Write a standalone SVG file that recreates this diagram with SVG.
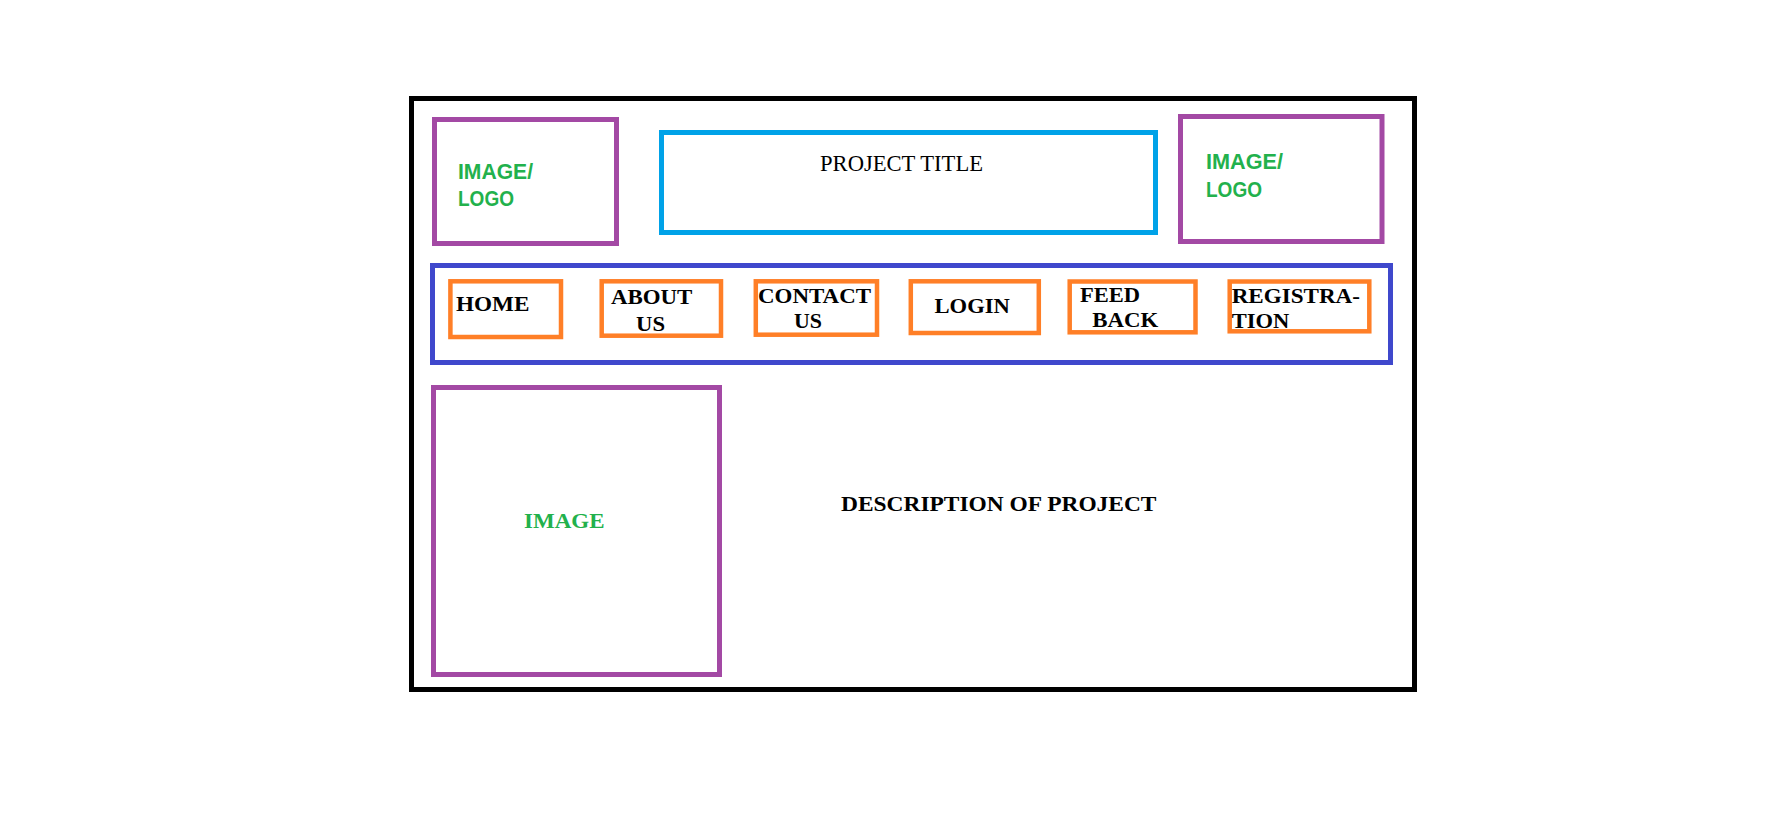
<svg xmlns="http://www.w3.org/2000/svg" width="1781" height="823" viewBox="0 0 1781 823">
<style>
.box{fill:none;stroke-width:5}
.outer{stroke:#000000}
.purple{stroke:#A349A4}
.cyan{stroke:#00A2E8}
.indigo{stroke:#3F48CC}
.btn{fill:none;stroke:#FF7F27;stroke-width:4.5}
.green{font-family:"Liberation Sans",Arial,sans-serif;font-weight:bold;font-size:22px;fill:#22B14C}
.nav{font-family:"Liberation Serif","Times New Roman",serif;font-weight:bold;font-size:21.5px;fill:#000}
.title{font-family:"Liberation Serif","Times New Roman",serif;font-size:22.5px;fill:#000}
</style>
<rect x="0" y="0" width="1781" height="823" fill="#ffffff"/>
<g id="page">
<rect class="box outer" x="411.5" y="98.5" width="1003" height="591"/>
</g>
<g id="logo-left">
<rect class="box purple" x="434.5" y="119.5" width="182" height="124"/>
<text class="green" x="458" y="178.5" textLength="75" lengthAdjust="spacingAndGlyphs">IMAGE/</text>
<text class="green" x="458" y="205.5" textLength="56" lengthAdjust="spacingAndGlyphs">LOGO</text>
</g>
<g id="project-title">
<rect class="box cyan" x="661.5" y="132.5" width="494" height="100"/>
<text class="title" x="820" y="171" textLength="163" lengthAdjust="spacingAndGlyphs">PROJECT TITLE</text>
</g>
<g id="logo-right">
<rect class="box purple" x="1180.5" y="116.5" width="201.5" height="125"/>
<text class="green" x="1206" y="169" textLength="77" lengthAdjust="spacingAndGlyphs">IMAGE/</text>
<text class="green" x="1206" y="196.5" textLength="56" lengthAdjust="spacingAndGlyphs">LOGO</text>
</g>
<g id="navbar">
<rect class="box indigo" x="432.5" y="265.5" width="958" height="97"/>
</g>
<g id="home">
<rect class="btn" x="450.4" y="281.3" width="110.6" height="55.7"/>
<text class="nav" x="456" y="311" textLength="73.5" lengthAdjust="spacingAndGlyphs">HOME</text>
</g>
<g id="about">
<rect class="btn" x="601.7" y="281.3" width="119.3" height="54.4"/>
<text class="nav" x="611" y="304.3" textLength="81.4" lengthAdjust="spacingAndGlyphs">ABOUT</text>
<text class="nav" x="636" y="331" textLength="29" lengthAdjust="spacingAndGlyphs">US</text>
</g>
<g id="contact">
<rect class="btn" x="755.8" y="281.3" width="121.2" height="53.4"/>
<text class="nav" x="758" y="303" textLength="113" lengthAdjust="spacingAndGlyphs">CONTACT</text>
<text class="nav" x="794" y="328.3" textLength="28" lengthAdjust="spacingAndGlyphs">US</text>
</g>
<g id="login">
<rect class="btn" x="910.8" y="281.3" width="128" height="51.7"/>
<text class="nav" x="934.5" y="313.3" textLength="75.3" lengthAdjust="spacingAndGlyphs">LOGIN</text>
</g>
<g id="feedback">
<rect class="btn" x="1069.7" y="281.5" width="125.8" height="50.8"/>
<text class="nav" x="1080" y="301.7" textLength="60" lengthAdjust="spacingAndGlyphs">FEED</text>
<text class="nav" x="1092.3" y="326.7" textLength="66" lengthAdjust="spacingAndGlyphs">BACK</text>
</g>
<g id="registration">
<rect class="btn" x="1229.7" y="281.5" width="139.6" height="49.8"/>
<text class="nav" x="1231.7" y="302.7" textLength="128.3" lengthAdjust="spacingAndGlyphs">REGISTRA-</text>
<text class="nav" x="1231.7" y="327.7" textLength="57.6" lengthAdjust="spacingAndGlyphs">TION</text>
</g>
<g id="image">
<rect class="box purple" x="433.5" y="387.5" width="286" height="287"/>
<text class="nav" x="524" y="527.5" textLength="80.5" lengthAdjust="spacingAndGlyphs" style="fill:#22B14C">IMAGE</text>
</g>
<g id="description">
<text class="nav" x="841" y="511" textLength="315.5" lengthAdjust="spacingAndGlyphs">DESCRIPTION OF PROJECT</text>
</g>
<g id="connectors"></g>
</svg>
